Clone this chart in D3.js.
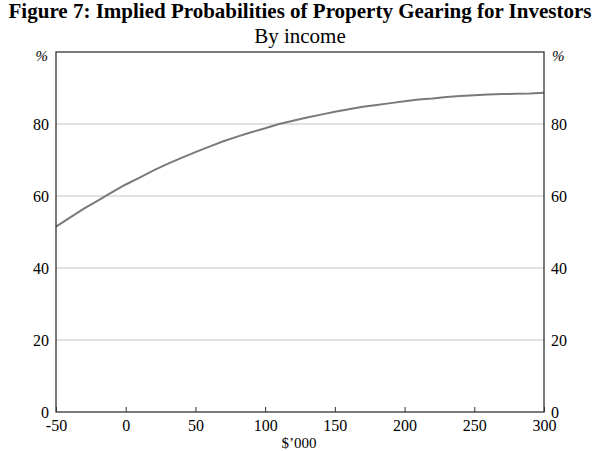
<!DOCTYPE html>
<html><head><meta charset="utf-8">
<script src="https://cdn.jsdelivr.net/npm/d3@7"></script>
<style>body{margin:0;background:#fff}</style>
</head><body>
<svg id="c" width="600" height="451"></svg>
<script>
const income = [-50,-40,-30,-20,-10,0,10,20,30,40,50,60,70,80,90,100,110,120,130,140,150,160,170,180,190,200,210,220,230,240,250,260,270,280,290,300];
const probability = [51.5,54,56.5,58.7,61,63.2,65.1,67.1,68.9,70.6,72.2,73.7,75.2,76.5,77.7,78.8,80.0,80.9,81.8,82.6,83.4,84.1,84.8,85.3,85.8,86.3,86.8,87.1,87.5,87.8,88.0,88.2,88.3,88.4,88.5,88.7];
const xTicks = [-50,0,50,100,150,200,250,300];
const yTicks = [0,20,40,60,80];
const title = "Figure 7: Implied Probabilities of Property Gearing for Investors";
const subtitle = "By income";
const xLabel = "$\u2019000";
const unit = "%";

const svg = d3.select("#c");
const L = 56, R = 544, T = 52, B = 412;
const x = d3.scaleLinear().domain([-50,300]).range([L,R]);
const y = d3.scaleLinear().domain([0,100]).range([B,T]);
const font = "'Liberation Serif', 'Times New Roman', serif";

svg.append("text").attr("x",300).attr("y",18).attr("text-anchor","middle")
  .attr("font-family",font).attr("font-weight","bold").attr("font-size",21).text(title);
svg.append("text").attr("x",300).attr("y",43).attr("text-anchor","middle")
  .attr("font-family",font).attr("font-size",21).text(subtitle);

// gridlines
svg.append("g").selectAll("line").data(yTicks.filter(d=>d>0)).join("line")
  .attr("x1",L).attr("x2",R).attr("y1",d=>y(d)).attr("y2",d=>y(d))
  .attr("stroke","#c4c4c4").attr("stroke-width",1);

// line
svg.append("path").datum(income.map((d,i)=>[d,probability[i]]))
  .attr("fill","none").attr("stroke","#7a7a7a").attr("stroke-width",2)
  .attr("d", d3.line().x(d=>x(d[0])).y(d=>y(d[1])));

// frame
svg.append("rect").attr("x",L).attr("y",T).attr("width",R-L).attr("height",B-T)
  .attr("fill","none").attr("stroke","#333").attr("stroke-width",1.3);

// bottom axis
const xa = svg.append("g").attr("transform",`translate(0,${B})`)
  .call(d3.axisBottom(x).tickValues(xTicks).tickSize(-5).tickPadding(8).tickFormat(d => String(d)));
xa.select(".domain").remove();
xa.selectAll("line").attr("stroke","#333");
xa.selectAll("text").attr("font-family",font).attr("font-size",16).attr("fill","#000");

// left axis
const ya = svg.append("g").attr("transform",`translate(${L},0)`)
  .call(d3.axisLeft(y).tickValues(yTicks).tickSize(0).tickPadding(7));
ya.select(".domain").remove();
ya.selectAll("text").attr("font-family",font).attr("font-size",16).attr("fill","#000");
// right axis
const ra = svg.append("g").attr("transform",`translate(${R},0)`)
  .call(d3.axisRight(y).tickValues(yTicks).tickSize(0).tickPadding(7));
ra.select(".domain").remove();
ra.selectAll("text").attr("font-family",font).attr("font-size",16).attr("fill","#000");

svg.append("text").attr("x",L-8).attr("y",T+9).attr("text-anchor","end")
  .attr("font-family",font).attr("font-style","italic").attr("font-size",15).text(unit);
svg.append("text").attr("x",R+8).attr("y",T+9).attr("text-anchor","start")
  .attr("font-family",font).attr("font-style","italic").attr("font-size",15).text(unit);

svg.append("text").attr("x",299).attr("y",448).attr("text-anchor","middle")
  .attr("font-family",font).attr("font-size",15).text(xLabel);
</script>
</body></html>
